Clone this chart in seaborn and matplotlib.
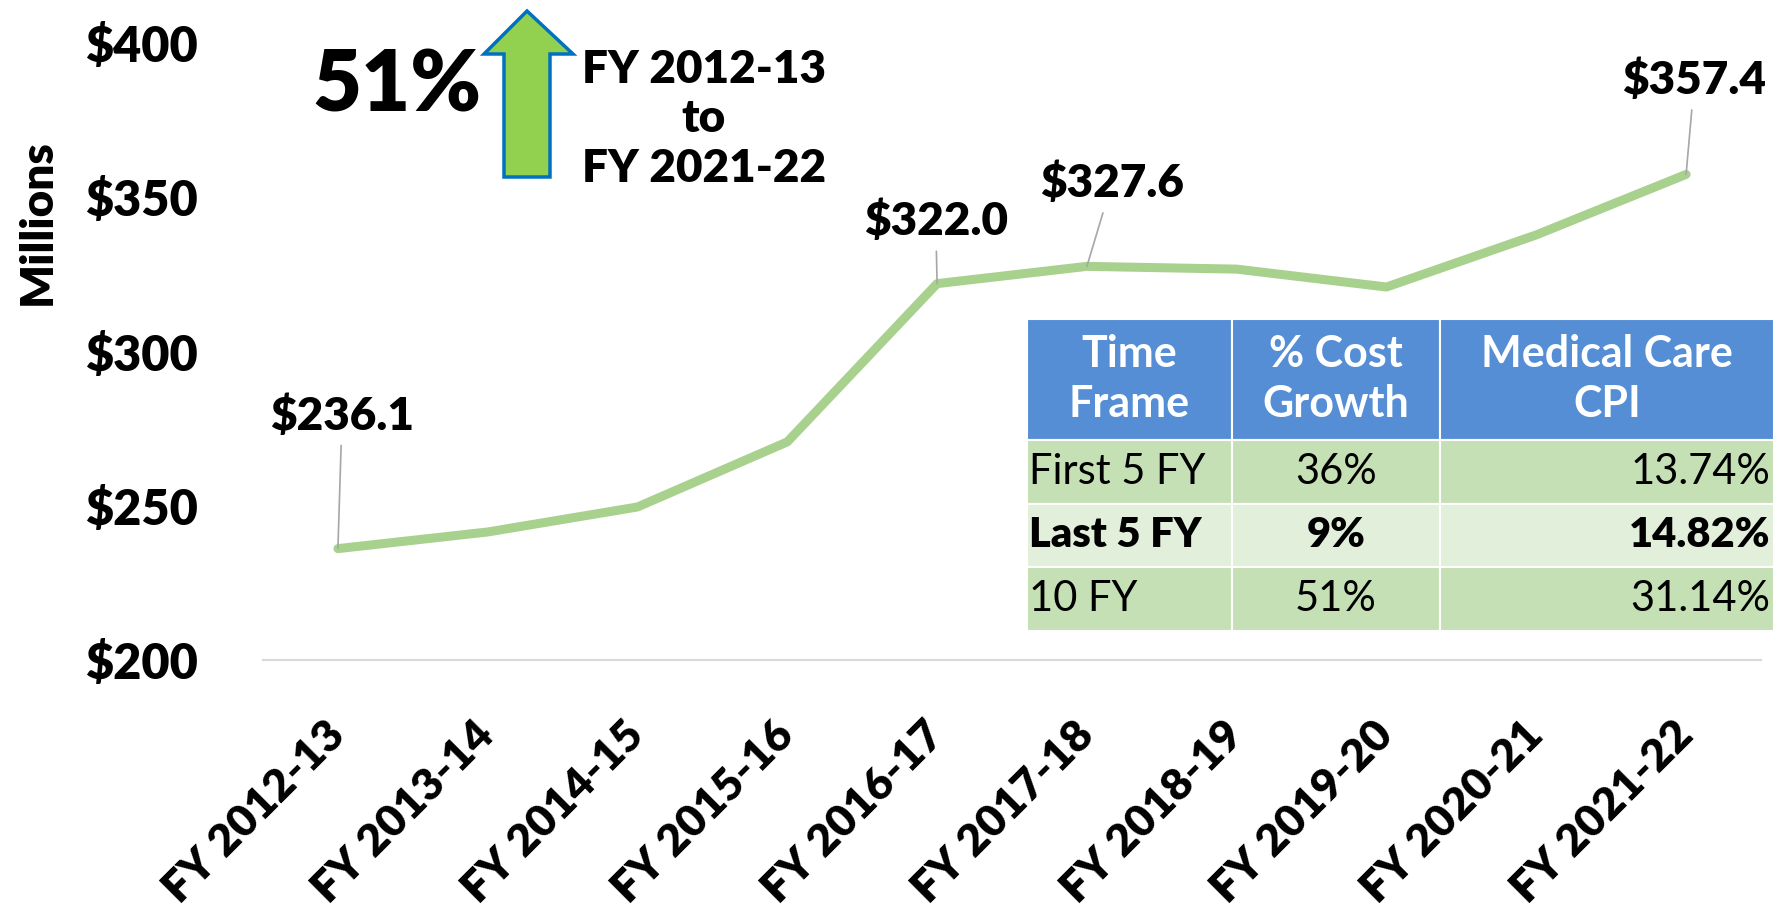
import numpy as np
import pandas as pd
import matplotlib
matplotlib.use("Agg")
import matplotlib.pyplot as plt
import matplotlib.transforms as mtransforms
import seaborn as sns
from matplotlib.patches import Polygon

# chart data
years = ["FY 2012-13", "FY 2013-14", "FY 2014-15", "FY 2015-16", "FY 2016-17",
         "FY 2017-18", "FY 2018-19", "FY 2019-20", "FY 2020-21", "FY 2021-22"]
costs = [236.1, 241.5, 249.6, 270.7, 322.0, 327.6, 326.7, 320.9, 337.8, 357.4]
labelled = {0: (3, 96), 4: (-1, 45), 5: (18, 60), 9: (6, 68)}  # index -> label offset (pt)

yticks = [200, 250, 300, 350, 400]

table_cols = ["Time\nFrame", "% Cost\nGrowth", "Medical Care\nCPI"]
table_rows = [["First 5 FY", "36%", "13.74%"],
              ["Last 5 FY", "9%", "14.82%"],
              ["10 FY", "51%", "31.14%"]]

growth_pct = "51%"
growth_span = "FY 2012-13\nto\nFY 2021-22"

df = pd.DataFrame({"year": years, "cost": costs})
df["pos"] = np.arange(len(df))

sns.set_style("white")
plt.rcParams["font.family"] = ["Lato", "DejaVu Sans"]
plt.rcParams["text.color"] = "black"
plt.rcParams["xtick.color"] = "black"
plt.rcParams["ytick.color"] = "black"
plt.rcParams["axes.labelcolor"] = "black"

BOLD = "heavy"

W, H = 1789, 919
AX_L, AX_R, AX_T, AX_B = 263, 1761, 43, 660
fig = plt.figure(figsize=(W / 100, H / 100), dpi=100)
ax = fig.add_axes([AX_L / W, 1 - AX_B / H, (AX_R - AX_L) / W, (AX_B - AX_T) / H])

line_color = "#A9D18E"
sns.lineplot(data=df, x="pos", y="cost", ax=ax, color=line_color, linewidth=6.5,
             solid_capstyle="round", solid_joinstyle="round")

ax.set_xlim(-0.5, 9.5)
ax.set_ylim(200, 400)
ax.set_yticks(yticks)
ax.set_yticklabels([f"${v}" for v in yticks], fontsize=35, fontweight=BOLD)
ax.set_xticks(df["pos"])
ax.set_xticklabels(years, fontsize=32, fontweight=BOLD, rotation=45,
                   ha="right", va="center", rotation_mode="anchor")
shift = mtransforms.ScaledTranslation(-4 / 72, 0, fig.dpi_scale_trans)
for lbl in ax.get_xticklabels():
    lbl.set_transform(lbl.get_transform() + shift)
ax.tick_params(axis="y", length=0, pad=47)
ax.tick_params(axis="x", length=0, pad=49)
ax.set_xlabel("")
ax.set_ylabel("Millions", fontsize=33, fontweight=BOLD)
ax.yaxis.set_label_coords(-0.137, 0.71)

for s in ["top", "right", "left"]:
    ax.spines[s].set_visible(False)
ax.spines["bottom"].set_color("#D9D9D9")
ax.spines["bottom"].set_linewidth(1.5)

# data labels with leader lines
for i, (dx, dy) in labelled.items():
    ax.annotate(f"${costs[i]:.1f}", xy=(df["pos"][i], costs[i]), xytext=(dx, dy),
                textcoords="offset points", ha="center", va="center",
                fontsize=33, fontweight=BOLD,
                arrowprops=dict(arrowstyle="-", color="#A6A6A6", lw=1.2,
                                shrinkA=4, shrinkB=0))

# 51% call-out with block arrow
fig.text(397 / W, 1 - 86 / H, growth_pct, fontsize=61, fontweight=BOLD,
         ha="center", va="center")
arrow_px = [(527, 11), (573, 54), (550, 54), (550, 177), (504, 177), (504, 54), (484, 54)]
arrow = Polygon([(x / W, 1 - y / H) for x, y in arrow_px], closed=True,
                transform=fig.transFigure, facecolor="#92D050", edgecolor="#0070C0", lw=2.5)
fig.patches.append(arrow)
fig.text(704 / W, 1 - 119 / H, growth_span, fontsize=33, fontweight=BOLD,
         ha="center", va="center", linespacing=1.25)

# summary table
aw, ah = AX_R - AX_L, AX_B - AX_T
tbl = ax.table(cellText=table_rows, colLabels=table_cols,
               bbox=[(1027 - AX_L) / aw, (AX_B - 631) / ah, (1774 - 1027) / aw, (631 - 319) / ah])
tbl.auto_set_font_size(False)
col_w = [205, 208, 334]
row_h = [120, 64, 62, 64]
row_colors = ["#C5E0B4", "#E2EFDA", "#C5E0B4"]
for (r, c), cell in tbl.get_celld().items():
    cell.set_width(col_w[c])
    cell.set_height(row_h[r])
    cell.set_edgecolor("white")
    cell.set_linewidth(1.5)
    cell.PAD = 0.01
    txt = cell.get_text()
    if r == 0:
        cell.set_facecolor("#558ED5")
        txt.set_color("white")
        txt.set_fontweight("bold")
        txt.set_fontsize(31)
        txt.set_linespacing(1.3)
        txt.set_ha("center")
        cell._loc = "center"
    else:
        cell.set_facecolor(row_colors[r - 1])
        txt.set_fontsize(30)
        if r == 2:
            txt.set_fontweight(BOLD)
        cell._loc = ["left", "center", "right"][c]
        txt.set_ha(cell._loc)

fig.savefig("out.png", dpi=100, facecolor="white")
